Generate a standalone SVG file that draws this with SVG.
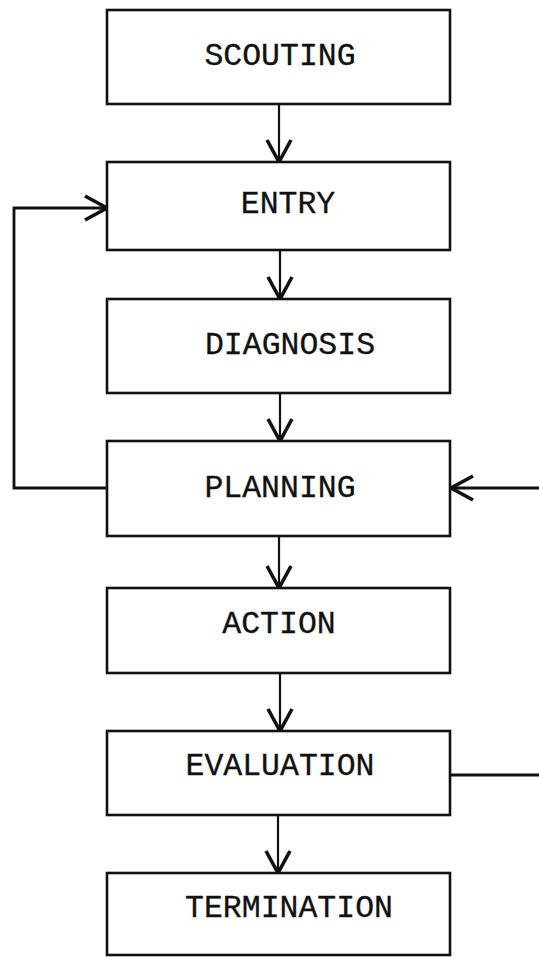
<svg xmlns="http://www.w3.org/2000/svg" width="539" height="957" viewBox="0 0 539 957">
  <defs>
    <marker id="arr" markerUnits="userSpaceOnUse" markerWidth="30" markerHeight="30" viewBox="-26 -15 30 30" refX="0" refY="0" orient="auto" overflow="visible">
      <path d="M -22,-12 L 0,0 L -22,12" fill="none" stroke="#111" stroke-width="3.6" stroke-linejoin="miter"/>
    </marker>
    <style>
      .box { fill: #fff; stroke: #111; stroke-width: 2.6; }
      .lbl { font-family: "Liberation Mono", "DejaVu Sans Mono", monospace; font-size: 31.5px; fill: #111; stroke: #111; stroke-width: 0.3; text-anchor: middle; }
      .conn { fill: none; stroke: #111; stroke-width: 2.2; }
      .fb { fill: none; stroke: #111; stroke-width: 2.8; }
    </style>
  </defs>
  <rect width="539" height="957" fill="#fff"/>

  <g id="connectors">
    <line class="conn" x1="279" y1="104" x2="279" y2="162" marker-end="url(#arr)"/>
    <line class="conn" x1="280" y1="250" x2="280" y2="299" marker-end="url(#arr)"/>
    <line class="conn" x1="280" y1="393" x2="280" y2="441" marker-end="url(#arr)"/>
    <line class="conn" x1="279" y1="536" x2="279" y2="588" marker-end="url(#arr)"/>
    <line class="conn" x1="280" y1="673" x2="280" y2="731" marker-end="url(#arr)"/>
    <line class="conn" x1="278" y1="815" x2="278" y2="873" marker-end="url(#arr)"/>
    <polyline class="fb" points="107,488 14,488 14,208 107,208" marker-end="url(#arr)"/>
    <line class="fb" x1="539" y1="488" x2="451" y2="488" marker-end="url(#arr)"/>
    <line class="fb" x1="450" y1="775" x2="539" y2="775"/>
  </g>

  <g id="scouting">
    <rect class="box" x="107" y="10" width="343" height="94"/>
    <text class="lbl" x="280" y="65">SCOUTING</text>
  </g>
  <g id="entry">
    <rect class="box" x="107" y="162" width="343" height="88"/>
    <text class="lbl" x="288" y="213">ENTRY</text>
  </g>
  <g id="diagnosis">
    <rect class="box" x="107" y="299" width="343" height="94"/>
    <text class="lbl" x="290" y="354">DIAGNOSIS</text>
  </g>
  <g id="planning">
    <rect class="box" x="107" y="441" width="343" height="95"/>
    <text class="lbl" x="280" y="497">PLANNING</text>
  </g>
  <g id="action">
    <rect class="box" x="107" y="588" width="343" height="85"/>
    <text class="lbl" x="279" y="633">ACTION</text>
  </g>
  <g id="evaluation">
    <rect class="box" x="107" y="731" width="343" height="84"/>
    <text class="lbl" x="280" y="775">EVALUATION</text>
  </g>
  <g id="termination">
    <rect class="box" x="107" y="873" width="343" height="82"/>
    <text class="lbl" x="289" y="917">TERMINATION</text>
  </g>
</svg>
